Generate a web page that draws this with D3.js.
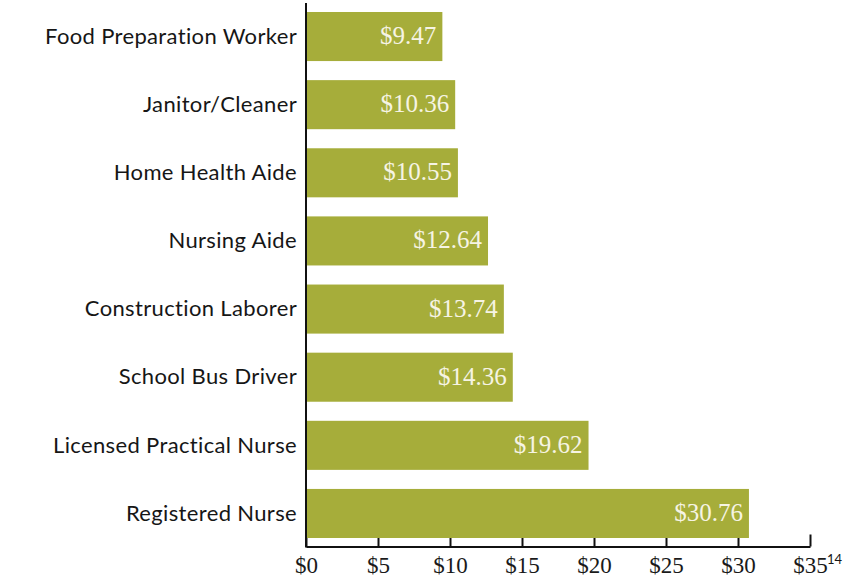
<!DOCTYPE html>
<html>
<head>
<meta charset="utf-8">
<script src="https://cdn.jsdelivr.net/npm/d3@7"></script>
<style>
  html, body { margin: 0; padding: 0; background: #fff; }
  svg { display: block; }
</style>
</head>
<body>
<svg id="chart" width="853" height="577"></svg>
<script>
const categories = [
  "Food Preparation Worker",
  "Janitor/Cleaner",
  "Home Health Aide",
  "Nursing Aide",
  "Construction Laborer",
  "School Bus Driver",
  "Licensed Practical Nurse",
  "Registered Nurse"
];
const wages = [9.47, 10.36, 10.55, 12.64, 13.74, 14.36, 19.62, 30.76];
const tickValues = [0, 5, 10, 15, 20, 25, 30, 35];
const footnote = "14";

const svg = d3.select("#chart");
const x = d3.scaleLinear().domain([0, 35]).range([306, 810]);
const y = d3.scaleBand().domain(categories).range([12, 538]).paddingInner(0.28).paddingOuter(0);
const axisY = 546.5;

// bottom axis
const xAxis = d3.axisBottom(x)
  .tickValues(tickValues)
  .tickFormat(d => "$" + d)
  .tickSizeInner(-12)
  .tickSizeOuter(0)
  .tickPadding(10);
const gx = svg.append("g").attr("transform", `translate(0,${axisY})`).call(xAxis);
gx.select(".domain").attr("stroke", "#111").attr("stroke-width", 2);
gx.selectAll(".tick line").attr("stroke", "#111").attr("stroke-width", 2);
gx.selectAll(".tick text")
  .attr("fill", "#1a1a1a")
  .style("font-family", "'Liberation Serif', 'DejaVu Serif', serif")
  .style("font-size", "23px");

// vertical axis line
svg.append("line")
  .attr("x1", x(0)).attr("x2", x(0))
  .attr("y1", 3).attr("y2", axisY + 1)
  .attr("stroke", "#111").attr("stroke-width", 2);

// bars
const data = categories.map((c, i) => ({ c, v: wages[i] }));
svg.append("g").selectAll("rect").data(data).join("rect")
  .attr("x", x(0) + 1)
  .attr("y", d => y(d.c))
  .attr("width", d => x(d.v) - x(0) - 1)
  .attr("height", y.bandwidth())
  .attr("fill", "#a6ad3a");

// value labels
svg.append("g").selectAll("text").data(data).join("text")
  .attr("x", d => x(d.v) - 6)
  .attr("y", d => y(d.c) + y.bandwidth() / 2)
  .attr("dy", "0.3em")
  .attr("text-anchor", "end")
  .attr("fill", "#f6f4e4")
  .style("font-family", "'Liberation Serif', 'DejaVu Serif', serif")
  .style("font-size", "25px")
  .text(d => "$" + d.v.toFixed(2));

// category labels
svg.append("g").selectAll("text").data(categories).join("text")
  .attr("x", x(0) - 9)
  .attr("y", d => y(d) + y.bandwidth() / 2)
  .attr("dy", "0.33em")
  .attr("text-anchor", "end")
  .attr("fill", "#161616")
  .style("font-family", "Lato, 'Open Sans', sans-serif")
  .style("font-size", "22px")
  .style("letter-spacing", "0.35px")
  .text(d => d);

// footnote marker
svg.append("text")
  .attr("x", x(35) + 17)
  .attr("y", 564)
  .attr("fill", "#161616")
  .style("font-family", "Lato, sans-serif")
  .style("font-size", "13px")
  .text(footnote);
</script>
</body>
</html>
